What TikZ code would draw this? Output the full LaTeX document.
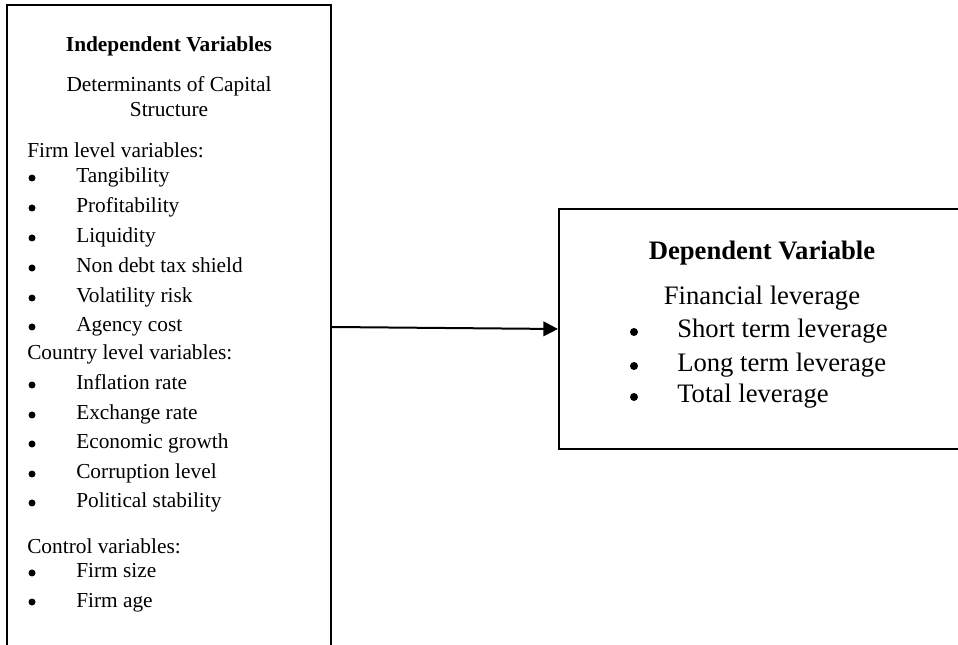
\documentclass[tikz,border=0pt]{standalone}
\usepackage{fontspec}
\setmainfont{Liberation Serif}
\usetikzlibrary{arrows.meta}

\begin{document}
\begin{tikzpicture}[x=0.75pt, y=-0.75pt,
        box/.style={draw, line width=1.5pt, inner sep=0pt},
        txt/.style={inner sep=0pt, font=\fontsize{16}{19}\selectfont},
        bigtxt/.style={inner sep=0pt, font=\fontsize{20}{24}\selectfont},
        bul/.style={circle, fill, inner sep=0pt, minimum size=5.25pt},
        bigbul/.style={circle, fill, inner sep=0pt, minimum size=6pt}]
        \useasboundingbox (0,0) rectangle (958,645);

        \node [box, minimum width=243pt, minimum height=483pt] (IV) at (169,327) {};
        \node [box, minimum width=302.25pt, minimum height=180pt] (DV) at (760.5,329) {};

        \node [txt, anchor=base, font=\fontsize{16}{19}\selectfont\bfseries] (IVtitle) at (169,52) {Independent Variables};
        \node [txt, anchor=base] (det1) at (169,92) {Determinants of Capital};
        \node [txt, anchor=base] (det2) at (169,117) {Structure};

        \node [txt, anchor=base west] (firm) at (27,158) {Firm level variables:};
        \node [bul] (b1) at (32,178) {};
        \node [txt, anchor=base west] (tang) at (76,183) {Tangibility};
        \node [bul] (b2) at (32,208) {};
        \node [txt, anchor=base west] (prof) at (76,213) {Profitability};
        \node [bul] (b3) at (32,238) {};
        \node [txt, anchor=base west] (liq) at (76,243) {Liquidity};
        \node [bul] (b4) at (32,268) {};
        \node [txt, anchor=base west] (ndts) at (76,273) {Non debt tax shield};
        \node [bul] (b5) at (32,298) {};
        \node [txt, anchor=base west] (vol) at (76,303) {Volatility risk};
        \node [bul] (b6) at (32,327) {};
        \node [txt, anchor=base west] (agency) at (76,332) {Agency cost};

        \node [txt, anchor=base west] (country) at (27,360) {Country level variables:};
        \node [bul] (b7) at (32,385) {};
        \node [txt, anchor=base west] (infl) at (76,390) {Inflation rate};
        \node [bul] (b8) at (32,415) {};
        \node [txt, anchor=base west] (exch) at (76,420) {Exchange rate};
        \node [bul] (b9) at (32,444) {};
        \node [txt, anchor=base west] (growth) at (76,449) {Economic growth};
        \node [bul] (b10) at (32,474) {};
        \node [txt, anchor=base west] (corr) at (76,479) {Corruption level};
        \node [bul] (b11) at (32,503) {};
        \node [txt, anchor=base west] (pol) at (76,508) {Political stability};

        \node [txt, anchor=base west] (control) at (27,553) {Control variables:};
        \node [bul] (b12) at (32,573) {};
        \node [txt, anchor=base west] (size) at (76,578) {Firm size};
        \node [bul] (b13) at (32,602) {};
        \node [txt, anchor=base west] (age) at (76,607) {Firm age};

        \node [bigtxt, anchor=base, font=\fontsize{20}{24}\selectfont\bfseries] (DVtitle) at (762,260) {Dependent Variable};
        \node [bigtxt, anchor=base] (fin) at (762,305) {Financial leverage};
        \node [bigbul] (c1) at (634,332) {};
        \node [bigtxt, anchor=base west] (short) at (677,338) {Short term leverage};
        \node [bigbul] (c2) at (634,366) {};
        \node [bigtxt, anchor=base west] (long) at (677,372) {Long term leverage};
        \node [bigbul] (c3) at (634,397) {};
        \node [bigtxt, anchor=base west] (total) at (677,403) {Total leverage};

        \draw [-{Triangle[length=11pt,width=11pt]}, line width=1.5pt] (IV.east) -- (DV.west);
    \end{tikzpicture}
\end{document}
